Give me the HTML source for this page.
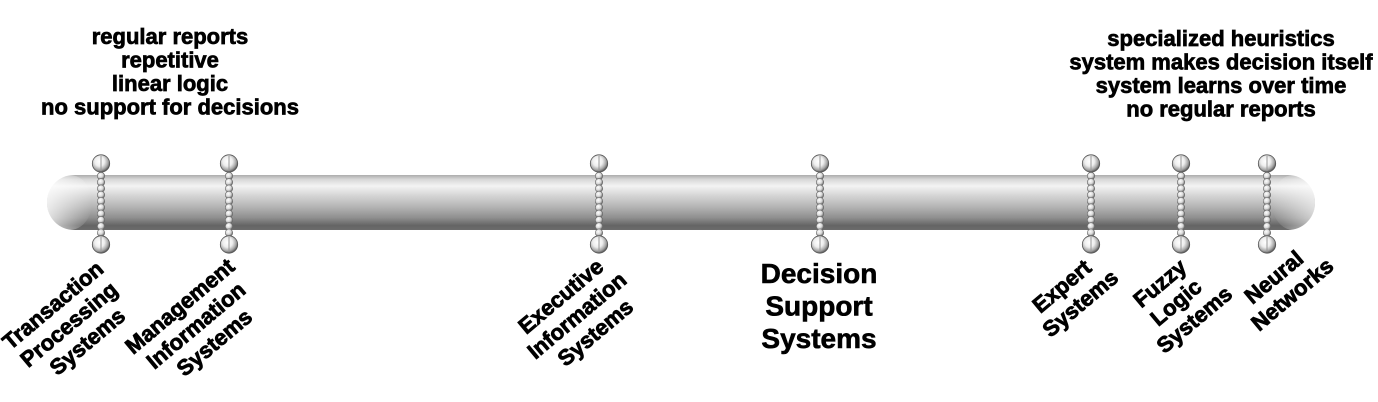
<!DOCTYPE html>
<html>
<head>
<meta charset="utf-8">
<style>
html,body{margin:0;padding:0;background:#fff;}
svg{display:block;}
text{font-family:"Liberation Sans",Arial,sans-serif;font-weight:bold;fill:#000;stroke:#000;}
</style>
</head>
<body>
<svg width="1378" height="402" viewBox="0 0 1378 402" xmlns="http://www.w3.org/2000/svg">
<defs>
  <linearGradient id="tube" x1="0" y1="0" x2="0" y2="1">
    <stop offset="0" stop-color="#acacac"/>
    <stop offset="0.08" stop-color="#d8d8d8"/>
    <stop offset="0.2" stop-color="#f3f3f3"/>
    <stop offset="0.38" stop-color="#d4d4d4"/>
    <stop offset="0.58" stop-color="#b4b4b4"/>
    <stop offset="0.78" stop-color="#8e8e8e"/>
    <stop offset="0.92" stop-color="#646464"/>
    <stop offset="1" stop-color="#6c6c6c"/>
  </linearGradient>
  <linearGradient id="fadeL" x1="0" y1="0" x2="1" y2="0">
    <stop offset="0" stop-color="#fff" stop-opacity="0.75"/>
    <stop offset="1" stop-color="#fff" stop-opacity="0"/>
  </linearGradient>
  <linearGradient id="fadeR" x1="1" y1="0" x2="0" y2="0">
    <stop offset="0" stop-color="#fff" stop-opacity="0.6"/>
    <stop offset="1" stop-color="#fff" stop-opacity="0"/>
  </linearGradient>
  <radialGradient id="ball" cx="0.42" cy="0.38" r="0.62">
    <stop offset="0" stop-color="#ffffff"/>
    <stop offset="0.45" stop-color="#eeeeee"/>
    <stop offset="0.78" stop-color="#a8a8a8"/>
    <stop offset="1" stop-color="#5a5a5a"/>
  </radialGradient>
  <radialGradient id="bead" cx="0.4" cy="0.35" r="0.65">
    <stop offset="0" stop-color="#ffffff"/>
    <stop offset="0.55" stop-color="#d8d8d8"/>
    <stop offset="1" stop-color="#666"/>
  </radialGradient>
  <g id="chain">
    <circle cx="0" cy="176" r="3.7" fill="url(#bead)" stroke="#666" stroke-width="0.6"/>
    <circle cx="0" cy="182.3" r="3.7" fill="url(#bead)" stroke="#666" stroke-width="0.6"/>
    <circle cx="0" cy="188.6" r="3.7" fill="url(#bead)" stroke="#666" stroke-width="0.6"/>
    <circle cx="0" cy="194.9" r="3.7" fill="url(#bead)" stroke="#666" stroke-width="0.6"/>
    <circle cx="0" cy="201.2" r="3.7" fill="url(#bead)" stroke="#666" stroke-width="0.6"/>
    <circle cx="0" cy="207.5" r="3.7" fill="url(#bead)" stroke="#666" stroke-width="0.6"/>
    <circle cx="0" cy="213.8" r="3.7" fill="url(#bead)" stroke="#666" stroke-width="0.6"/>
    <circle cx="0" cy="220.1" r="3.7" fill="url(#bead)" stroke="#666" stroke-width="0.6"/>
    <circle cx="0" cy="226.4" r="3.7" fill="url(#bead)" stroke="#666" stroke-width="0.6"/>
    <circle cx="0" cy="232.7" r="3.7" fill="url(#bead)" stroke="#666" stroke-width="0.6"/>
    <circle cx="0" cy="163.5" r="8.7" fill="url(#ball)" stroke="#555" stroke-width="0.8"/>
    <line x1="0" y1="156" x2="0" y2="171" stroke="#999" stroke-width="1"/>
    <circle cx="0" cy="244.5" r="8.7" fill="url(#ball)" stroke="#555" stroke-width="0.8"/>
    <line x1="0" y1="237" x2="0" y2="252" stroke="#999" stroke-width="1"/>
  </g>
</defs>

<!-- tube -->
<rect x="47" y="175" width="1268" height="55" rx="27" ry="27" fill="url(#tube)"/>
<rect x="47" y="175" width="45" height="55" rx="27" ry="27" fill="url(#fadeL)"/>
<rect x="1272" y="175" width="43" height="55" rx="27" ry="27" fill="url(#fadeR)"/>

<!-- chains -->
<use href="#chain" x="101"/>
<use href="#chain" x="229"/>
<use href="#chain" x="599"/>
<use href="#chain" x="820"/>
<use href="#chain" x="1091"/>
<use href="#chain" x="1181"/>
<use href="#chain" x="1267"/>

<!-- top left text -->
<g font-size="22" text-anchor="middle" stroke-width="0.7">
  <text x="170" y="44">regular reports</text>
  <text x="170" y="67.5">repetitive</text>
  <text x="170" y="91">linear logic</text>
  <text x="170" y="114.5">no support for decisions</text>
</g>
<!-- top right text -->
<g font-size="22" text-anchor="middle" stroke-width="0.7">
  <text x="1221" y="46">specialized heuristics</text>
  <text x="1221" y="69.5">system makes decision itself</text>
  <text x="1221" y="93">system learns over time</text>
  <text x="1221" y="116.5">no regular reports</text>
</g>

<!-- DSS -->
<g font-size="28" text-anchor="middle" stroke-width="0.6">
  <text x="819" y="283">Decision</text>
  <text x="819" y="315.5">Support</text>
  <text x="819" y="348">Systems</text>
</g>

<!-- rotated labels -->
<g font-size="22" text-anchor="middle" stroke-width="0.8">
  <text transform="translate(60,309) rotate(-40)">
    <tspan x="0" dy="0">Transaction</tspan>
    <tspan x="0" dy="25">Processing</tspan>
    <tspan x="0" dy="25">Systems</tspan>
  </text>
  <text transform="translate(187,310) rotate(-40)">
    <tspan x="0" dy="0">Management</tspan>
    <tspan x="0" dy="25">Information</tspan>
    <tspan x="0" dy="25">Systems</tspan>
  </text>
  <text transform="translate(568,300) rotate(-40)">
    <tspan x="0" dy="0">Executive</tspan>
    <tspan x="0" dy="25">Information</tspan>
    <tspan x="0" dy="25">Systems</tspan>
  </text>
  <text transform="translate(1069,290) rotate(-40)">
    <tspan x="0" dy="0">Expert</tspan>
    <tspan x="0" dy="25">Systems</tspan>
  </text>
  <text transform="translate(1167,287) rotate(-40)">
    <tspan x="0" dy="0">Fuzzy</tspan>
    <tspan x="0" dy="25">Logic</tspan>
    <tspan x="0" dy="25">Systems</tspan>
  </text>
  <text transform="translate(1281,281) rotate(-40)">
    <tspan x="0" dy="0">Neural</tspan>
    <tspan x="0" dy="25">Networks</tspan>
  </text>
</g>
</svg>
</body>
</html>
